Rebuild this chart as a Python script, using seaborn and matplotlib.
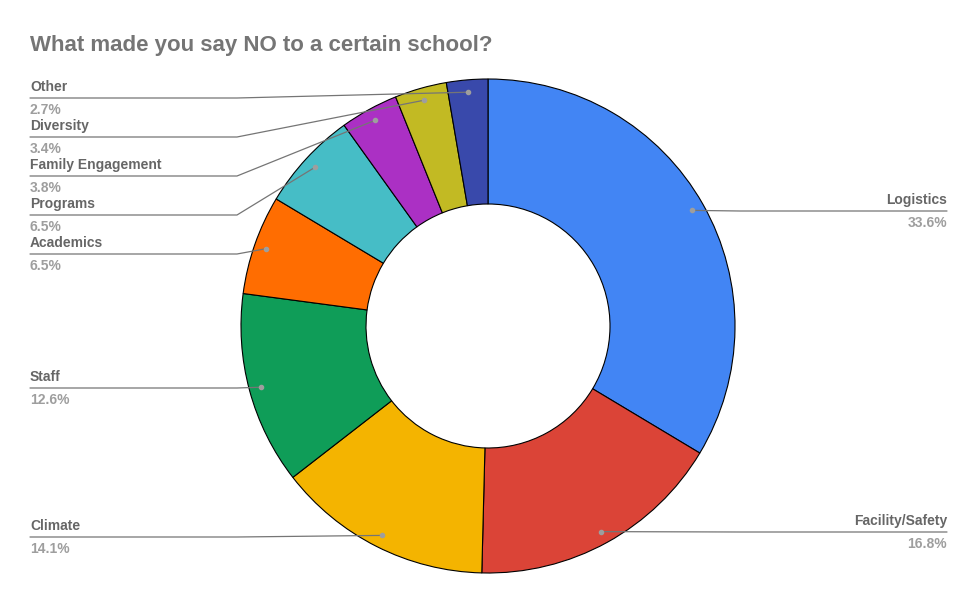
import numpy as np
import matplotlib
matplotlib.use("Agg")
import matplotlib.pyplot as plt
import seaborn as sns

# dados
categorias = ["Logistics", "Facility/Safety", "Climate", "Staff", "Academics",
              "Programs", "Family Engagement", "Diversity", "Other"]
valores = [33.6, 16.8, 14.1, 12.6, 6.5, 6.5, 3.8, 3.4, 2.7]
cores = ["#4285F4", "#DB4437", "#F4B400", "#0F9D58", "#FF6D01",
         "#46BDC6", "#AB30C4", "#C2BA23", "#3949AB"]
titulo = "What made you say NO to a certain school?"

# layout (pixels, y para baixo)
W, H = 977, 604
cx, cy, R, r_in = 488, 326, 247, 122
lado = {"Logistics": "R", "Facility/Safety": "R"}
linha_y = {"Logistics": 211, "Facility/Safety": 532, "Climate": 537, "Staff": 388,
           "Academics": 254, "Programs": 215, "Family Engagement": 176,
           "Diversity": 137, "Other": 98}

sns.set_theme(style="white")
plt.rcParams["font.family"] = ["Liberation Sans", "DejaVu Sans"]

fig = plt.figure(figsize=(W / 100, H / 100), dpi=100)
ax = fig.add_axes([0, 0, 1, 1])
pal = sns.color_palette(cores)
wedges, _ = ax.pie(valores, colors=pal, startangle=90, counterclock=False,
                   center=(cx, H - cy), radius=R,
                   wedgeprops=dict(width=R - r_in, edgecolor="black", linewidth=0.8))
ax.set_xlim(0, W)
ax.set_ylim(0, H)
ax.set_aspect("auto")
ax.axis("off")

for w, nome, v in zip(wedges, categorias, valores):
    ang = np.deg2rad((w.theta1 + w.theta2) / 2)
    px = cx + 0.95 * R * np.cos(ang)
    py = (H - cy) + 0.95 * R * np.sin(ang)
    ly = H - linha_y[nome]
    if lado.get(nome) == "R":
        xs = [px, max(px, 740), 947]
        tx, ha = 947, "right"
    else:
        xs = [px, min(px, 237), 30]
        tx, ha = 30, "left"
    ax.plot(xs, [py, ly, ly], color="#757575", lw=0.9, zorder=5)
    ax.plot(px, py, "o", color="#9E9E9E", ms=3, zorder=6)
    ax.text(tx, ly + 4, nome, ha=ha, va="bottom", fontsize=10,
            fontweight="bold", color="#666666")
    ax.text(tx, ly - 5, f"{v}%", ha=ha, va="top", fontsize=10,
            fontweight="bold", color="#9E9E9E")

fig.text(30 / W, 1 - 45 / H, titulo, ha="left", va="center", fontsize=16,
         fontweight="bold", color="#757575")

fig.savefig("out.png", dpi=100)
